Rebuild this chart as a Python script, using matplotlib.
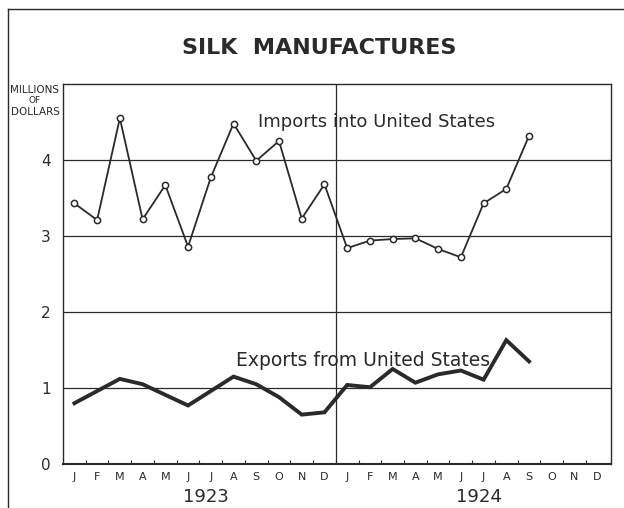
import matplotlib
matplotlib.use("Agg")
import matplotlib.pyplot as plt
from matplotlib.lines import Line2D

months = ["J", "F", "M", "A", "M", "J", "J", "A", "S", "O", "N", "D"]
years = ["1923", "1924"]
imports = [3.43, 3.21, 4.55, 3.22, 3.67, 2.86, 3.77, 4.48, 3.99, 4.25, 3.23, 3.68,
           2.84, 2.94, 2.96, 2.97, 2.83, 2.72, 3.43, 3.62, 4.32]
exports = [0.80, 0.96, 1.12, 1.05, 0.91, 0.77, 0.96, 1.15, 1.05, 0.88, 0.65, 0.68,
           1.04, 1.01, 1.25, 1.07, 1.18, 1.23, 1.11, 1.63, 1.35]
yticks = [0, 1, 2, 3, 4]

ink = "#2a2a2a"
plt.rcParams['font.family'] = ['DejaVu Sans']

fig = plt.figure(figsize=(6.24, 5.08), dpi=100)
ax = fig.add_axes([0.101, 0.0866, 0.878, 0.748])

x_all = list(range(len(months) * len(years)))
x_imp = x_all[:len(imports)]
x_exp = x_all[:len(exports)]

ax.set_xlim(-0.5, 23.6)
ax.set_ylim(0, 5)

for v in yticks[1:]:
    ax.axhline(v, color=ink, lw=0.9, zorder=1)
ax.axvline(11.5, color=ink, lw=0.9, zorder=1)

ax.plot(x_imp, imports, color=ink, lw=1.3, marker="o", ms=4.5,
        mfc="white", mec=ink, mew=1.1, zorder=3)
ax.plot(x_exp, exports, color=ink, lw=2.8, solid_joinstyle="miter", zorder=3)

for s in ax.spines.values():
    s.set_color(ink)
    s.set_linewidth(1.0)
ax.spines["bottom"].set_linewidth(1.5)

ax.set_yticks(yticks)
ax.set_yticklabels([str(v) for v in yticks], fontsize=11, color=ink)
ax.tick_params(axis="y", length=0, pad=9)

ax.set_xticks(x_all)
ax.set_xticklabels(months * len(years), fontsize=8, color=ink)
ax.tick_params(axis="x", length=0, pad=6)
ax.set_xticks([i + 0.5 for i in x_all[:-1]], minor=True)
ax.tick_params(axis="x", which="minor", direction="in", length=3, width=0.8, color=ink)

for k, yr in enumerate(years):
    ax.text(5.8 + 12 * k, -0.32, yr, fontsize=13, color=ink, ha="center", va="top",
            transform=ax.transData)

ax.text(13.3, 4.5, "Imports into United States", fontsize=13, color=ink,
        ha="center", va="center")
ax.text(12.7, 1.36, "Exports from United States", fontsize=13.5, color=ink,
        ha="center", va="center")

fig.text(0.511, 0.905, "SILK  MANUFACTURES", fontsize=16, fontweight="bold",
         color=ink, ha="center", va="center")
fig.text(0.056, 0.823, "MILLIONS", fontsize=7.5, color=ink, ha="center", va="center")
fig.text(0.056, 0.803, "OF", fontsize=6.5, color=ink, ha="center", va="center")
fig.text(0.056, 0.780, "DOLLARS", fontsize=7.5, color=ink, ha="center", va="center")

fig.add_artist(Line2D([0.013, 0.013], [0.0, 0.982], color=ink, lw=1.0, transform=fig.transFigure))
fig.add_artist(Line2D([0.013, 1.0], [0.982, 0.982], color=ink, lw=1.0, transform=fig.transFigure))

fig.savefig("out.png", dpi=100)
